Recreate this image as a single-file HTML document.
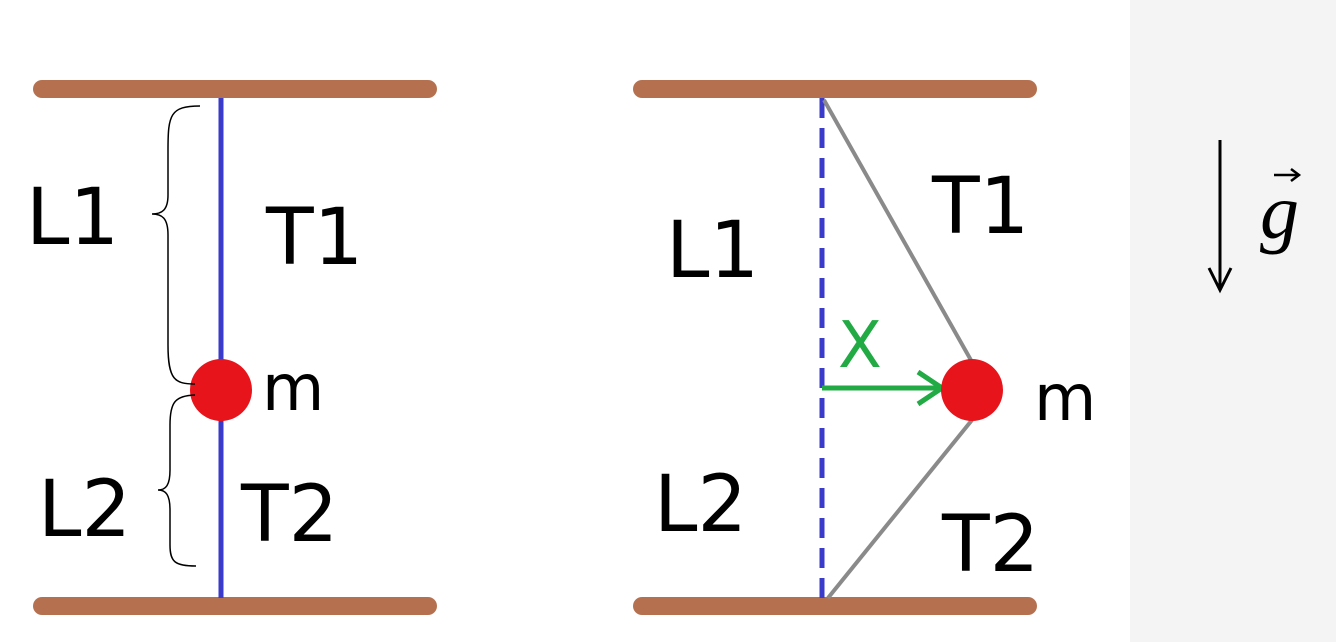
<!DOCTYPE html>
<html><head><meta charset="utf-8"><style>
html,body{margin:0;padding:0;background:#fff;}
svg{display:block}
text{font-family:"DejaVu Sans","Liberation Sans",sans-serif;}
</style></head><body>
<svg width="1336" height="642" viewBox="0 0 1336 642" xmlns="http://www.w3.org/2000/svg">
<rect x="1130" y="0" width="206" height="642" fill="#f4f4f4"/>
<g>
<line x1="42" y1="89" x2="428" y2="89" stroke="#b5714f" stroke-width="18" stroke-linecap="round"/>
<line x1="42" y1="606" x2="428" y2="606" stroke="#b5714f" stroke-width="18" stroke-linecap="round"/>
<line x1="221" y1="98" x2="221" y2="598" stroke="#3a3acb" stroke-width="5"/>
<circle cx="221" cy="390" r="31" fill="#e8141c"/>
<path d="M200,106 C170,106 168,115 168,150 L168,195 C168,210 162,214 152,214 C162,214 168,218 168,235 L168,345 C168,380 175,384 195,384" fill="none" stroke="#000" stroke-width="1.5"/>
<path d="M195,395 C175,396 170,402 170,425 L170,470 C170,485 166,490 158,490 C166,490 170,495 170,510 L170,545 C170,562 175,566 196,566" fill="none" stroke="#000" stroke-width="1.5"/>
<text x="26" y="244" font-size="78">L1</text>
<text x="266" y="264" font-size="78">T1</text>
<text x="262" y="410" font-size="64">m</text>
<text x="38" y="536" font-size="78">L2</text>
<text x="241" y="541" font-size="78">T2</text>
</g>
<g>
<line x1="642" y1="89" x2="1028" y2="89" stroke="#b5714f" stroke-width="18" stroke-linecap="round"/>
<line x1="642" y1="606" x2="1028" y2="606" stroke="#b5714f" stroke-width="18" stroke-linecap="round"/>
<line x1="822" y1="98" x2="822" y2="598" stroke="#3a3acb" stroke-width="5" stroke-dasharray="20,10"/>
<line x1="824" y1="100" x2="972" y2="362" stroke="#8a8a8a" stroke-width="4"/>
<line x1="972" y1="420" x2="828" y2="598" stroke="#8a8a8a" stroke-width="4"/>
<line x1="822" y1="388" x2="940" y2="388" stroke="#22aa44" stroke-width="5"/>
<path d="M918,372 L942,388 L918,404" fill="none" stroke="#22aa44" stroke-width="5"/>
<circle cx="972" cy="390" r="31" fill="#e8141c"/>
<text x="838" y="367" font-size="64" fill="#22aa44">X</text>
<text x="666" y="277" font-size="78">L1</text>
<text x="932" y="233" font-size="78">T1</text>
<text x="1034" y="420" font-size="64">m</text>
<text x="654" y="531" font-size="78">L2</text>
<text x="942" y="571" font-size="78">T2</text>
</g>
<g>
<line x1="1220" y1="140" x2="1220" y2="288" stroke="#000" stroke-width="3"/>
<path d="M1209,268 L1220,290 L1231,268" fill="none" stroke="#000" stroke-width="3"/>
<text x="1260" y="238" font-size="78" font-style="italic" style="font-family:'Liberation Serif',serif">g</text>
<line x1="1274" y1="175" x2="1298" y2="175" stroke="#000" stroke-width="2.5"/>
<path d="M1291,169 L1299,175 L1291,181" fill="none" stroke="#000" stroke-width="2.5"/>
</g>
</svg>
</body></html>
